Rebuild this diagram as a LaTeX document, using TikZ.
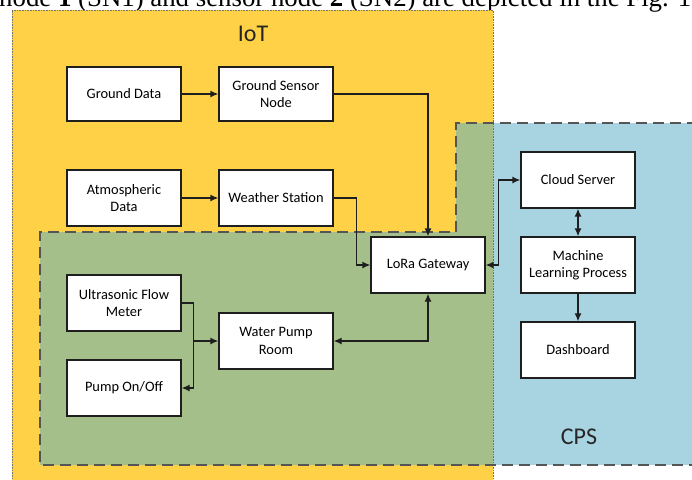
\documentclass[tikz,border=0pt]{standalone}
\usepackage{fontspec}
\usepackage{graphicx}
\setmainfont{Carlito}
\newfontfamily\serifx{Liberation Serif}
\usetikzlibrary{arrows.meta}
\definecolor{iotyellow}{RGB}{255,209,71}
\definecolor{cpsblue}{RGB}{168,212,226}
\definecolor{ovgreen}{RGB}{164,191,138}
\definecolor{dashgray}{RGB}{85,85,85}
\definecolor{linec}{RGB}{30,30,30}
\begin{document}
\begin{tikzpicture}[x=1pt,y=-1pt,
  box/.style={draw=linec, line width=1.3pt, fill=white, minimum width=114pt,
    minimum height=56pt, align=center, inner sep=2pt,
    font=\fontsize{14.4}{17.3}\selectfont},
  conn/.style={draw=linec, line width=1.3pt, -{Latex[length=8pt,width=7pt]}},
  conn2/.style={draw=linec, line width=1.3pt, {Latex[length=8pt,width=7pt]}-{Latex[length=8pt,width=7pt]}},
  region/.style={font=\fontsize{24}{28}\selectfont, text=black!85},
  dashedge/.style={draw=dashgray, line width=1.3pt, dash pattern=on 11pt off 6pt},
  dotedge/.style={draw=black!55, line width=0.6pt, densely dotted}]
\useasboundingbox (0,0) rectangle (692,479);
\fill[white] (0,0) rectangle (692,479);
% caption remnant at top
\node[anchor=base west, inner sep=0pt] (cap) at (-1,6)
  {\resizebox{692pt}{!}{\serifx node \textbf{1} (SN1) and sensor node \textbf{2} (SN2) are depicted in the Fig. 1}};
% IoT region
\fill[iotyellow] (12,10) rectangle (493,485);
% CPS region
\fill[cpsblue] (493,123) rectangle (700,465);
\fill[ovgreen] (40,232) -- (456,232) -- (456,123) -- (493,123) -- (493,465) -- (40,465) -- cycle;
\draw[dotedge] (12,485) -- (12,10) -- (493,10) -- (493,485);
\draw[dashedge] (700,465) -- (40,465) -- (40,232) -- (456,232) -- (456,123) -- (700,123);
\node[region] (iot) at (253,34) {IoT};
\node[region] (cps) at (579,437) {CPS};
% nodes
\node[box, minimum height=54pt] (gd) at (124,94) {Ground Data};
\node[box, minimum height=54pt] (gsn) at (276,94) {Ground Sensor\\Node};
\node[box] (ad) at (124,198) {Atmospheric\\Data};
\node[box] (ws) at (276,198) {Weather Station};
\node[box] (ufm) at (124,303) {Ultrasonic Flow\\Meter};
\node[box] (wpr) at (276,341) {Water Pump\\Room};
\node[box] (poo) at (124,388) {Pump On/Off};
\node[box] (lora) at (428,265) {LoRa Gateway};
\node[box] (cs) at (578,180) {Cloud Server};
\node[box] (ml) at (578,265) {Machine\\Learning Process};
\node[box] (db) at (578,350) {Dashboard};
% connectors
\draw[conn] (gd) -- (gsn);
\draw[conn] (ad) -- (ws);
\draw[conn] (gsn.east) -| (lora.north);
\draw[conn] (ws.east) -- ++(23,0) |- (lora.west);
\draw[conn2] (wpr.east) -| (lora.south);
\draw[conn2] (lora.east) -- ++(13,0) |- (cs.west);
\draw[conn2] (cs) -- (ml);
\draw[conn] (ml) -- (db);
\coordinate (j) at (193,341);
\draw[conn] (ufm.east) -- ++(12,0) |- (poo.east);
\draw[conn] (j) -- (wpr.west);
\end{tikzpicture}
\end{document}
